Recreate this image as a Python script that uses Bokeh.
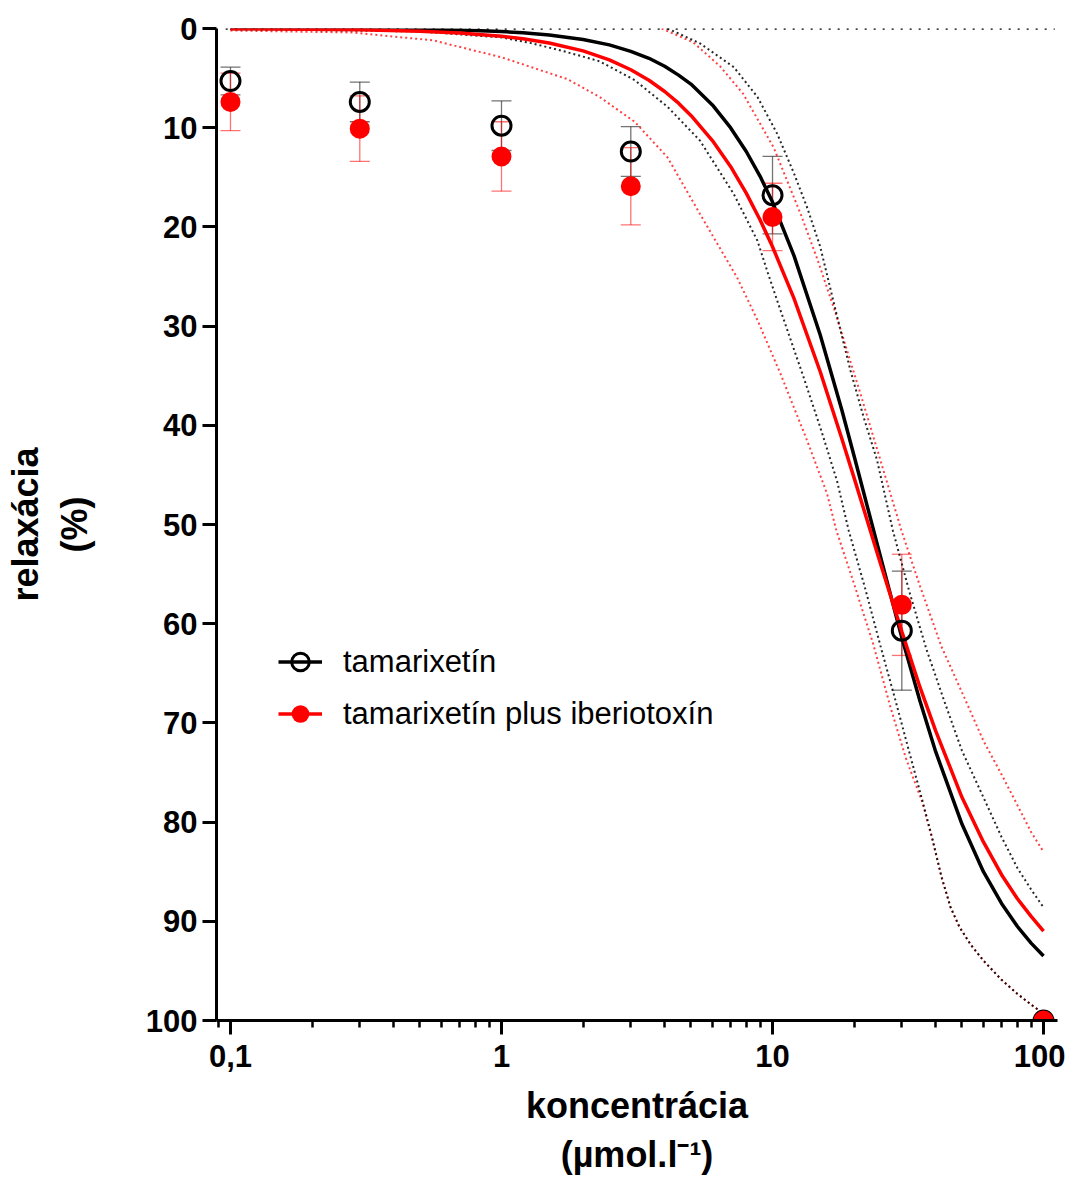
from bokeh.plotting import figure
from bokeh.models import (Range1d, FixedTicker, Whisker, TeeHead, ColumnDataSource,
                          Legend, LegendItem, CustomJSTickFormatter)
from bokeh.embed import file_html
from bokeh.resources import INLINE

# ---------------- data ----------------
conc = [0.1, 0.3, 1, 3, 10, 30, 100]
tam_mean = [5.3, 7.4, 9.8, 12.4, 16.8, 60.7, 100]
tam_sem = [1.4, 2.0, 2.5, 2.5, 3.9, 6.0, 0]
tib_mean = [7.4, 10.1, 12.9, 15.9, 19.0, 58.1, 100]
tib_sem = [2.9, 3.3, 3.5, 3.9, 3.4, 5.1, 0]

fit_x = [0.1, 0.15, 0.2, 0.3, 0.5, 0.7, 1, 1.2, 1.5, 2, 2.5, 3, 3.5, 4, 4.5, 5, 6, 7, 8,
         9, 10, 12, 15, 18, 20, 25, 30, 35, 40, 50, 60, 70, 80, 90, 100]
tam_fit = [0.0, 0.01, 0.02, 0.03, 0.09, 0.16, 0.31, 0.44, 0.66, 1.1, 1.65, 2.3, 3.0, 3.8,
           4.7, 5.6, 7.7, 10.0, 12.4, 14.9, 17.5, 22.9, 30.9, 38.4, 43.1, 53.2, 61.4, 67.8,
           72.9, 80.2, 85.0, 88.2, 90.5, 92.2, 93.5]
tib_fit = [0.02, 0.04, 0.07, 0.12, 0.27, 0.45, 0.78, 1.03, 1.46, 2.26, 3.16, 4.16, 5.22,
           6.35, 7.53, 8.76, 11.3, 13.9, 16.6, 19.3, 22.0, 27.2, 34.6, 41.3, 45.3, 53.9,
           60.8, 66.4, 70.8, 77.5, 82.0, 85.3, 87.7, 89.5, 91.0]

# confidence bands (dotted)
tam_lo_x = [0.1, 0.5, 1.0, 1.3, 1.7, 2.3, 3.1, 4.1, 5.4, 7.2, 8.8, 9.6, 10.7, 13.0, 15.0,
            17.3, 19.1, 22.0, 25.0, 28.4, 32.0, 35.7, 39.0, 42.0, 45.4, 49.0, 54.0, 60.2,
            70.0, 80.0, 90.0, 100.0]
tam_lo_v = [0.05, 0.3, 0.9, 1.5, 2.3, 3.3, 5.2, 7.9, 11.3, 16.7, 21.4, 24.6, 28.4, 35.1,
            40.2, 45.6, 50.6, 56.5, 62.2, 67.7, 73.0, 77.8, 81.8, 85.5, 88.6, 90.6, 92.4,
            94.0, 95.9, 97.3, 98.4, 99.3]
tib_lo_x = [0.1, 0.28, 0.56, 1.0, 1.75, 2.3, 3.1, 4.1, 5.4, 7.4, 8.8, 10.7, 13.4, 15.9,
            17.2, 20.0, 23.5, 27.3, 31.0, 35.7, 39.0, 42.0, 45.4, 49.0, 54.0, 60.2, 70.0,
            80.0, 90.0, 100.0]
tib_lo_v = [0.2, 0.4, 1.2, 2.9, 5.1, 6.9, 9.4, 13.0, 18.7, 25.1, 29.4, 34.8, 41.5, 46.9,
            50.6, 56.0, 62.0, 68.5, 73.5, 78.0, 81.9, 85.5, 88.6, 90.6, 92.4, 94.0, 95.9,
            97.3, 98.4, 99.3]
tam_hi_x = [4.1, 5.4, 7.2, 8.8, 10.4, 12.0, 13.4, 15.0, 17.3, 19.4, 21.7, 24.3, 27.8, 32.0,
            37.0, 42.9, 50.0, 60.7, 70.0, 80.0, 90.0, 100.0]
tam_hi_v = [0.0, 1.5, 3.9, 6.9, 10.6, 14.6, 18.0, 22.0, 29.0, 34.5, 39.2, 43.5, 50.6, 56.8,
            62.6, 67.7, 72.8, 77.8, 81.5, 84.6, 86.8, 88.6]
tib_hi_x = [3.9, 5.1, 6.4, 7.8, 10.1, 12.7, 14.7, 17.0, 19.0, 21.1, 23.0, 25.0, 29.9, 35.0,
            42.0, 51.5, 60.0, 70.0, 78.4, 90.0, 100.0]
tib_hi_v = [0.0, 1.4, 3.8, 6.6, 12.0, 18.7, 23.4, 28.5, 32.8, 36.8, 40.2, 43.5, 50.6, 56.2,
            62.3, 67.7, 71.8, 75.2, 77.8, 81.0, 83.0]

zero_x = [0.096, 110]
zero_v = [0, 0]

x_ticks = [0.1, 1, 10, 100]
x_tick_labels = ["0,1", "1", "10", "100"]
x_minor = [0.09, 0.2, 0.3, 0.4, 0.5, 0.6, 0.7, 0.8, 0.9, 2, 3, 4, 5, 6, 7, 8, 9,
           20, 30, 40, 50, 60, 70, 80, 90]
y_ticks = [0, 10, 20, 30, 40, 50, 60, 70, 80, 90, 100]

labels = ["tamarixetín", "tamarixetín plus iberiotoxín"]

FONT = "Liberation Sans"

# ---------------- figure ----------------
p = figure(width=1065, height=1184, x_axis_type="log",
           x_range=Range1d(0.0888, 112.6), y_range=Range1d(100, 0),
           output_backend="svg", toolbar_location=None,
           min_border_left=216, min_border_right=8, min_border_top=28,
           min_border_bottom=164)
p.outline_line_color = None
p.xgrid.grid_line_color = None
p.ygrid.grid_line_color = None

p.xaxis.ticker = FixedTicker(ticks=x_ticks, minor_ticks=x_minor)
p.xaxis.formatter = CustomJSTickFormatter(
    args=dict(tvals=x_ticks, tlabels=x_tick_labels),
    code="""
    let best = 0, d = Infinity;
    for (let i = 0; i < tvals.length; i++) {
        const dd = Math.abs(Math.log10(tvals[i]) - Math.log10(tick));
        if (dd < d) { d = dd; best = i; }
    }
    return tlabels[best];
""")
p.yaxis.ticker = FixedTicker(ticks=y_ticks)
p.yaxis.minor_tick_line_color = None

for ax in (p.xaxis, p.yaxis):
    ax.axis_line_width = 3
    ax.major_tick_line_width = 3
    ax.major_tick_out = 14
    ax.major_tick_in = 0
    ax.minor_tick_out = 7
    ax.minor_tick_in = 0
    ax.minor_tick_line_width = 2.5
    ax.major_label_text_font = FONT
    ax.major_label_text_font_style = "bold"
    ax.major_label_text_font_size = "31px"
    ax.major_label_text_color = "black"
    ax.axis_label_text_font = FONT
    ax.axis_label_text_font_style = "bold"
    ax.axis_label_text_font_size = "36px"
    ax.axis_label_text_color = "black"

p.xaxis.axis_label = "koncentrácia\n(µmol.l⁻¹)"
p.yaxis.axis_label = "relaxácia\n(%)"
p.xaxis.major_label_standoff = 10
p.yaxis.major_label_standoff = 5
p.xaxis.axis_label_standoff = 15
p.yaxis.axis_label_standoff = 48

# zero baseline
p.line(zero_x, zero_v, line_color="black", line_width=2.5, line_dash="2 7")

# confidence bands
p.line(tib_lo_x, tib_lo_v, line_color="red", line_alpha=0.75, line_width=2, line_dash="2 3")
p.line(tib_hi_x, tib_hi_v, line_color="red", line_alpha=0.75, line_width=2, line_dash="2 3")
p.line(tam_lo_x, tam_lo_v, line_color="black", line_alpha=0.85, line_width=2, line_dash="2 3")
p.line(tam_hi_x, tam_hi_v, line_color="black", line_alpha=0.85, line_width=2, line_dash="2 3")

# error bars
def whisker(mean, sem, color):
    xs = [c for c, s in zip(conc, sem) if s > 0]
    hi = [m - s for m, s in zip(mean, sem) if s > 0]
    lo = [m + s for m, s in zip(mean, sem) if s > 0]
    src = ColumnDataSource(dict(x=xs, hi=hi, lo=lo))
    w = Whisker(source=src, base="x", upper="hi", lower="lo", dimension="height",
                line_color=color, line_alpha=0.55, line_width=1.3, level="underlay",
                upper_head=TeeHead(size=20, line_color=color, line_alpha=0.55, line_width=1.3),
                lower_head=TeeHead(size=20, line_color=color, line_alpha=0.55, line_width=1.3))
    p.add_layout(w)

whisker(tam_mean, tam_sem, "black")
whisker(tib_mean, tib_sem, "red")

# fitted curves
r_tam_fit = p.line(fit_x, tam_fit, line_color="black", line_width=3.5)
r_tib_fit = p.line(fit_x, tib_fit, line_color="red", line_width=3.5)

# markers
r_tam = p.scatter(conc, tam_mean, marker="circle", size=19, fill_alpha=0,
                  line_color="black", line_width=3)
r_tib = p.scatter(conc, tib_mean, marker="circle", size=20, fill_color="red",
                  line_color=None)

legend = Legend(items=[LegendItem(label=labels[0], renderers=[r_tam_fit, r_tam]),
                       LegendItem(label=labels[1], renderers=[r_tib_fit, r_tib])],
                location=(62, 284), padding=0, margin=0, spacing=7,
                glyph_width=44, glyph_height=45, label_height=45, label_standoff=21,
                border_line_color=None, background_fill_alpha=0,
                label_text_font=FONT, label_text_font_size="31px",
                label_text_color="black")
p.add_layout(legend)

open("out.html", "w").write(file_html(p, INLINE))
